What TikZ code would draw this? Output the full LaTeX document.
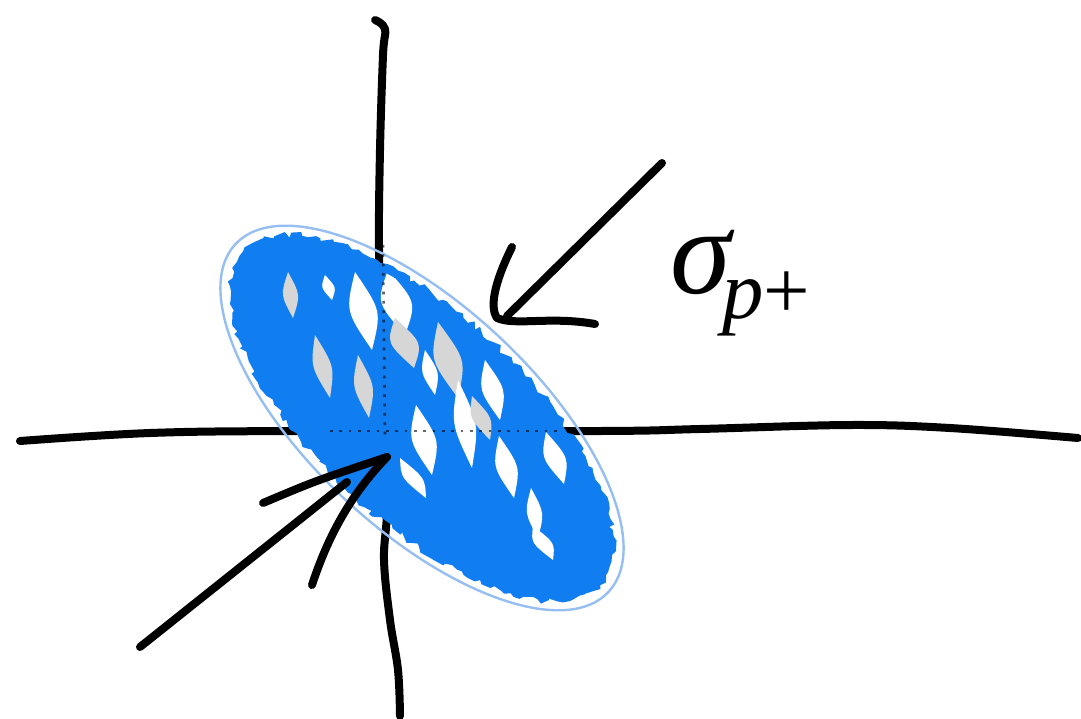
\documentclass[tikz,border=0pt]{standalone}
\usepackage{fontspec}
\setmainfont{Liberation Serif}
\usetikzlibrary{calc,decorations.pathmorphing}
\definecolor{scrib}{RGB}{16,126,240}
\definecolor{rim}{RGB}{150,190,240}
\definecolor{streakgray}{RGB}{214,214,214}
\begin{document}
\begin{tikzpicture}[x=0.75pt,y=-0.75pt,
  ink/.style={line width=6pt, line cap=round, line join=round, black}]
\useasboundingbox (0,0) rectangle (1081,718);
% axes
\draw[ink] plot[smooth, tension=0.6] coordinates {(20,441) (150,433) (300,431) (600,431) (700,429) (850,425) (950,428) (1078,438)};
\draw[ink] plot[smooth, tension=0.6] coordinates {(375,20) (385,29) (383,55) (380,150) (379,250) (382,350) (385,440) (387,510) (384,560) (390,620) (398,670) (400,716)};
% ellipse
\begin{scope}[shift={(422,418)}, rotate=-43]
  \draw[rim, line width=1.8pt] (0,0) ellipse [x radius=255, y radius=112];
  \fill[scrib, decorate, decoration={random steps, segment length=4pt, amplitude=2.5pt}] (0,0) ellipse [x radius=244, y radius=104];
\end{scope}
\begin{scope}
  \clip[shift={(422,418)}, rotate=-43] (0,0) ellipse [x radius=236, y radius=96];
  \foreach \xa/\ya/\xb/\yb/\w/\c in {
    288/272/293/318/10/streakgray,
    355/272/372/350/18/white,
    388/270/405/335/20/white,
    395/318/414/368/18/streakgray,
    438/322/458/398/18/streakgray,
    315/335/330/398/12/streakgray,
    358/355/369/418/12/streakgray,
    416/405/432/475/16/white,
    458/380/472/468/14/white,
    499/436/514/498/14/white,
    485/360/500/420/14/white,
    546/432/564/484/14/white,
    400/458/426/498/12/white,
    533/526/553/560/12/white,
    472/396/490/440/12/streakgray,
    531/488/538/538/10/white,
    425/350/435/395/10/white,
    325/275/332/300/8/white}
  {\fill[\c] (\xa,\ya) .. controls ($(\xa,\ya)!0.5!(\xb,\yb)+(\w,0)$) .. (\xb,\yb) .. controls ($(\xa,\ya)!0.5!(\xb,\yb)-(\w,0)$) .. cycle;}
\end{scope}
% faint axes through the scribble
\draw[black, line width=2pt, dash pattern=on 2pt off 5pt, opacity=0.6] (383,245) -- (385,440);
\draw[black, line width=2pt, dash pattern=on 2pt off 5pt, opacity=0.6] (330,431) -- (560,431);
% lower-left arrow
\coordinate (t1) at (387,457);
\coordinate (s1) at (140,647);
\coordinate (e1) at (347,482);
\draw[ink] (s1) -- (e1);
\draw[ink] (263,503) .. controls (315,481) .. (t1);
\draw[ink] (312,585) .. controls (330,530) and (355,490) .. (t1);
% upper-right arrow
\coordinate (t2) at (497,318);
\coordinate (s2) at (662,163);
\coordinate (e2) at (507,316);
\draw[ink] (s2) -- (e2);
\draw[ink] (512,247) .. controls (498,275) and (488,305) .. (t2) .. controls (515,326) and (550,316) .. (595,324);
% label
\node[anchor=base west, inner sep=0] (sig) at (670,293) {\fontsize{92}{92}\selectfont\textit{σ}\kern-9pt\raisebox{-18.75pt}{\fontsize{62}{62}\selectfont\textit{p}+}};
\end{tikzpicture}
\end{document}
